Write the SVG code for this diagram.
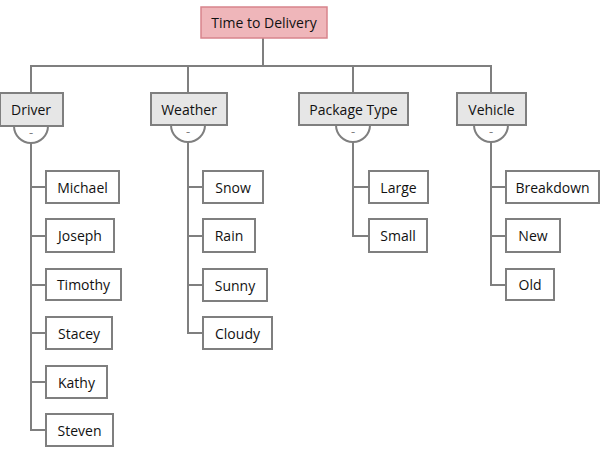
<svg xmlns="http://www.w3.org/2000/svg" width="608" height="450" viewBox="0 0 608 450">
<style>
.ln{fill:none;stroke:#7f7f7f;stroke-width:2}
.box{fill:#fff;stroke:#7f7f7f;stroke-width:2}
.cat{fill:#e6e6e6;stroke:#7f7f7f;stroke-width:2}
.root{fill:#efb6ba;stroke:#d8848c;stroke-width:1.5}
text{font-family:"Open Sans","Noto Sans","Liberation Sans",sans-serif;font-size:14px;fill:#111;text-anchor:middle;dominant-baseline:central}
.mn{font-size:13px;fill:#7f7f7f}
</style>
<rect width="608" height="450" fill="#fff"/>
<g id="connectors">
<path class="ln" d="M263 38V66M31 93V66H491V93M188 66V93M353 66V93"/>
<path class="ln" d="M14 126A17 17 0 0 0 48 126"/>
<path class="ln" d="M171 125A17 17 0 0 0 205 125"/>
<path class="ln" d="M336 125A17 17 0 0 0 370 125"/>
<path class="ln" d="M474 125A17 17 0 0 0 508 125"/>
<path class="ln" d="M31 143V430H46M31 187H46M31 236H46M31 285H46M31 333H46M31 382H46"/>
<path class="ln" d="M188 142V333H203M188 187H203M188 236H203M188 285H203"/>
<path class="ln" d="M353 142V236H369M353 187H369"/>
<path class="ln" d="M491 142V285H506M491 187H506M491 236H506"/>
</g>
<g id="root"><rect class="root" x="201" y="7" width="126" height="31"/><text x="264" y="22.5">Time to Delivery</text></g>
<g id="driver"><rect class="cat" x="0" y="93" width="63" height="33"/><text x="31" y="109.5">Driver</text><text class="mn" x="31" y="132">-</text></g>
<g id="weather"><rect class="cat" x="151" y="93" width="76" height="32"/><text x="189" y="109">Weather</text><text class="mn" x="188" y="131">-</text></g>
<g id="package-type"><rect class="cat" x="299" y="93" width="109" height="32"/><text x="353.5" y="109">Package Type</text><text class="mn" x="353" y="131">-</text></g>
<g id="vehicle"><rect class="cat" x="457" y="93" width="69" height="32"/><text x="491.5" y="109">Vehicle</text><text class="mn" x="491" y="131">-</text></g>
<g id="michael"><rect class="box" x="46" y="171" width="73" height="32"/><text x="82.5" y="187">Michael</text></g>
<g id="joseph"><rect class="box" x="46" y="219" width="68" height="33"/><text x="80" y="235.5">Joseph</text></g>
<g id="timothy"><rect class="box" x="46" y="269" width="75" height="31"/><text x="83.5" y="284.5">Timothy</text></g>
<g id="stacey"><rect class="box" x="46" y="317" width="66" height="32"/><text x="79" y="333">Stacey</text></g>
<g id="kathy"><rect class="box" x="46" y="366" width="61" height="32"/><text x="76.5" y="382">Kathy</text></g>
<g id="steven"><rect class="box" x="46" y="414" width="67" height="32"/><text x="79.5" y="430">Steven</text></g>
<g id="snow"><rect class="box" x="203" y="171" width="60" height="32"/><text x="233" y="187">Snow</text></g>
<g id="rain"><rect class="box" x="203" y="219" width="52" height="33"/><text x="229" y="235.5">Rain</text></g>
<g id="sunny"><rect class="box" x="203" y="269" width="64" height="32"/><text x="235" y="285">Sunny</text></g>
<g id="cloudy"><rect class="box" x="203" y="317" width="69" height="32"/><text x="237.5" y="333">Cloudy</text></g>
<g id="large"><rect class="box" x="369" y="171" width="59" height="32"/><text x="398.5" y="187">Large</text></g>
<g id="small"><rect class="box" x="369" y="219" width="58" height="33"/><text x="398" y="235.5">Small</text></g>
<g id="breakdown"><rect class="box" x="506" y="171" width="93" height="32"/><text x="552.5" y="187">Breakdown</text></g>
<g id="new"><rect class="box" x="506" y="219" width="54" height="33"/><text x="533" y="235.5">New</text></g>
<g id="old"><rect class="box" x="506" y="269" width="48" height="31"/><text x="530" y="284.5">Old</text></g>
</svg>
